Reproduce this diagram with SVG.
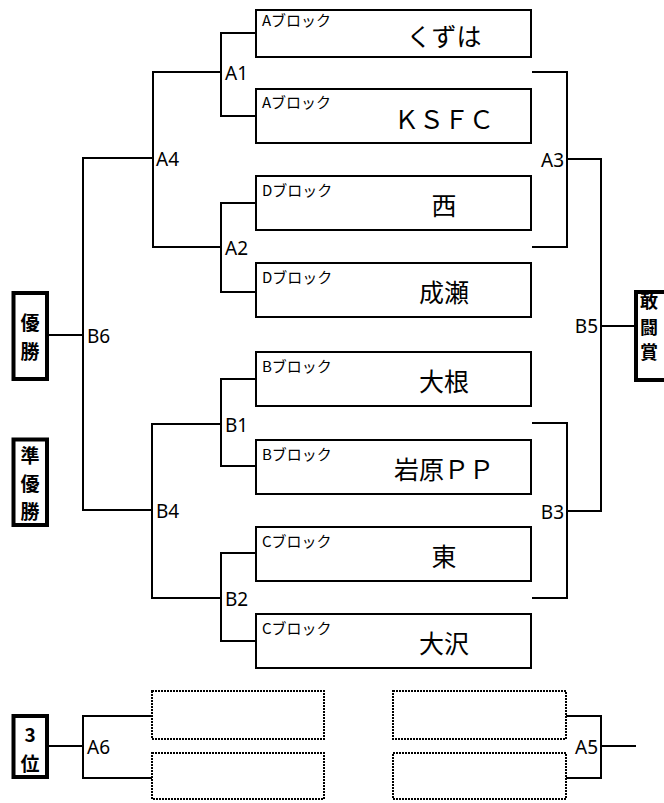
<svg xmlns="http://www.w3.org/2000/svg" width="664" height="803" viewBox="0 0 664 803">
<style>
.bg{fill:#fff}
.box{fill:#fff;stroke:#000;stroke-width:2}
.dot{fill:#fff;stroke:#000;stroke-width:2;stroke-dasharray:2 1}
.award{fill:#fff;stroke:#000;stroke-width:4}
.ln{fill:none;stroke:#000;stroke-width:2}
.blk{font-family:"Noto Sans CJK JP","Noto Sans",sans-serif;font-size:15px;fill:#000}
.name{font-family:"Noto Sans CJK JP","Noto Sans",sans-serif;font-size:25px;fill:#000;text-anchor:middle;dominant-baseline:central}
.lbl{font-family:"Noto Sans","DejaVu Sans",sans-serif;font-size:19px;fill:#000}
.lblr{font-family:"Noto Sans","DejaVu Sans",sans-serif;font-size:19px;fill:#000;text-anchor:end}
.aw{font-family:"Noto Sans CJK JP",sans-serif;font-weight:bold;font-size:19px;fill:#000;text-anchor:middle;dominant-baseline:central}
.aws{font-family:"Noto Sans CJK JP",sans-serif;font-weight:bold;font-size:18px;fill:#000;text-anchor:middle;dominant-baseline:central}
</style>
<rect class="bg" x="0" y="0" width="664" height="803"/>

<g id="connectors">
  <polyline class="ln" points="256,33 221,33 221,116 256,116"/>
  <line class="ln" x1="153" y1="72" x2="221" y2="72"/>
  <polyline class="ln" points="256,203 221,203 221,292 256,292"/>
  <line class="ln" x1="153" y1="247" x2="221" y2="247"/>
  <line class="ln" x1="153" y1="71" x2="153" y2="248"/>
  <line class="ln" x1="83" y1="158" x2="153" y2="158"/>
  <polyline class="ln" points="256,379 221,379 221,466 256,466"/>
  <line class="ln" x1="152" y1="424" x2="221" y2="424"/>
  <polyline class="ln" points="256,553 221,553 221,641 256,641"/>
  <line class="ln" x1="152" y1="598" x2="221" y2="598"/>
  <line class="ln" x1="152" y1="423" x2="152" y2="599"/>
  <line class="ln" x1="83" y1="510" x2="152" y2="510"/>
  <line class="ln" x1="83" y1="157" x2="83" y2="511"/>
  <line class="ln" x1="49" y1="335" x2="83" y2="335"/>
  <polyline class="ln" points="532,72 567,72 567,247 532,247"/>
  <line class="ln" x1="567" y1="159" x2="601" y2="159"/>
  <polyline class="ln" points="532,423 567,423 567,598 532,598"/>
  <line class="ln" x1="567" y1="511" x2="601" y2="511"/>
  <line class="ln" x1="601" y1="158" x2="601" y2="512"/>
  <line class="ln" x1="601" y1="326" x2="634" y2="326"/>
  <polyline class="ln" points="152,716 83,716 83,778 152,778"/>
  <line class="ln" x1="49" y1="746" x2="83" y2="746"/>
  <polyline class="ln" points="566,716 601,716 601,778 566,778"/>
  <line class="ln" x1="601" y1="746" x2="636" y2="746"/>
</g>

<g id="labels">
  <text class="lbl" x="225" y="80">A1</text>
  <text class="lbl" x="225" y="255">A2</text>
  <text class="lbl" x="156" y="166">A4</text>
  <text class="lbl" x="225" y="432">B1</text>
  <text class="lbl" x="225" y="606">B2</text>
  <text class="lbl" x="156" y="518">B4</text>
  <text class="lbl" x="87" y="343">B6</text>
  <text class="lblr" x="564" y="167">A3</text>
  <text class="lblr" x="564" y="519">B3</text>
  <text class="lblr" x="598" y="333">B5</text>
  <text class="lbl" x="87" y="754">A6</text>
  <text class="lblr" x="598" y="754">A5</text>
</g>

<g id="team1"><rect class="box" x="256" y="10" width="275" height="47"/><text class="blk" x="262" y="26">Aブロック</text><text class="name" x="444" y="35">くずは</text></g>
<g id="team2"><rect class="box" x="256" y="89" width="275" height="54"/><text class="blk" x="262" y="108">Aブロック</text><text class="name" x="444" y="118">ＫＳＦＣ</text></g>
<g id="team3"><rect class="box" x="256" y="176" width="275" height="54"/><text class="blk" x="262" y="196">Dブロック</text><text class="name" x="444" y="204">西</text></g>
<g id="team4"><rect class="box" x="256" y="263" width="275" height="54"/><text class="blk" x="262" y="283">Dブロック</text><text class="name" x="444" y="291">成瀬</text></g>
<g id="team5"><rect class="box" x="256" y="352" width="275" height="54"/><text class="blk" x="262" y="372">Bブロック</text><text class="name" x="444" y="380">大根</text></g>
<g id="team6"><rect class="box" x="256" y="440" width="275" height="54"/><text class="blk" x="262" y="460">Bブロック</text><text class="name" x="444" y="468">岩原ＰＰ</text></g>
<g id="team7"><rect class="box" x="256" y="527" width="275" height="54"/><text class="blk" x="262" y="547">Cブロック</text><text class="name" x="444" y="555">東</text></g>
<g id="team8"><rect class="box" x="256" y="614" width="275" height="54"/><text class="blk" x="262" y="634">Cブロック</text><text class="name" x="444" y="642">大沢</text></g>

<g id="third1"><rect class="dot" x="152" y="691" width="172" height="48"/></g>
<g id="third2"><rect class="dot" x="152" y="753" width="172" height="46"/></g>
<g id="third3"><rect class="dot" x="393" y="691" width="173" height="48"/></g>
<g id="third4"><rect class="dot" x="393" y="753" width="173" height="46"/></g>

<g id="winner"><rect class="award" x="13.5" y="293" width="33.5" height="86"/><text class="aw" x="30" y="321">優</text><text class="aw" x="30" y="350">勝</text></g>
<g id="runnerup"><rect class="award" x="13.5" y="439.5" width="33.5" height="85.5"/><text class="aw" x="30" y="454">準</text><text class="aw" x="30" y="482">優</text><text class="aw" x="30" y="510">勝</text></g>
<g id="fighting"><rect class="award" x="636" y="292" width="34" height="88"/><text class="aws" x="649" y="300">敢</text><text class="aws" x="649" y="326">闘</text><text class="aws" x="649" y="351">賞</text></g>
<g id="third"><rect class="award" x="13.5" y="716" width="33.5" height="61"/><text class="aw" x="30" y="733">3</text><text class="aw" x="30" y="762">位</text></g>
</svg>
